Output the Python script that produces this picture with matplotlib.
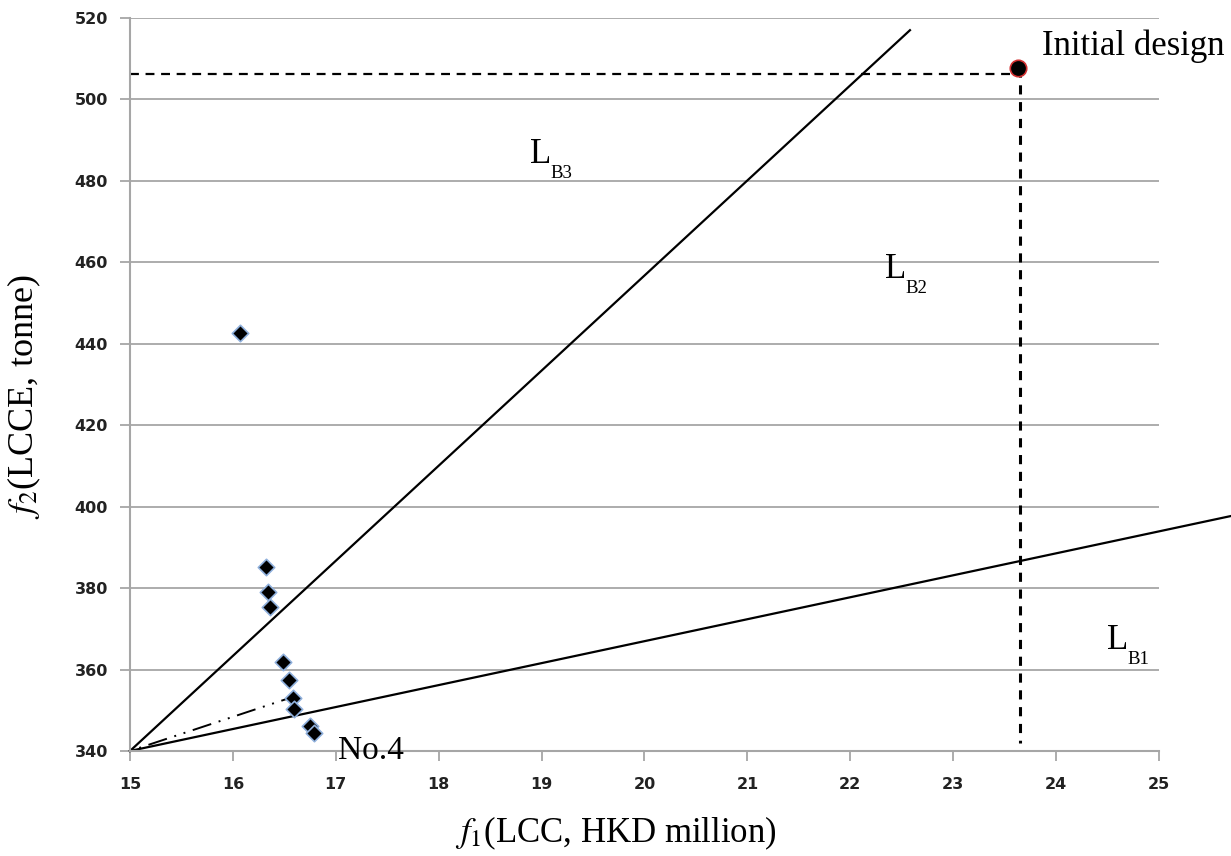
import numpy as np
import matplotlib
matplotlib.use("Agg")
import matplotlib.pyplot as plt

plt.rcParams['mathtext.fontset'] = 'stix'
plt.rcParams['font.family'] = 'Liberation Serif'

# Pareto solutions (LCC, LCCE)
lcc = [16.07, 16.32, 16.34, 16.36, 16.49, 16.55, 16.58, 16.59, 16.75, 16.79]
lcce = [442.7, 385.2, 379.1, 375.4, 361.9, 357.5, 353.1, 350.2, 346.2, 344.4]

# initial design
init_x, init_y = 23.63, 507.6
ref_line_y = 506.3

# boundary lines from origin (15, 340)
origin = (15, 340)
lb3_end = (22.58, 517.0)
lb1_end = (25.70, 397.7)
lb_mid_end = (16.55, 353.0)

xticks = list(range(15, 26))
yticks = list(range(340, 521, 20))

fig = plt.figure(figsize=(12.31, 8.56), dpi=100)
ax = fig.add_axes([0.1056, 0.1227, 0.8359, 0.8563])

ax.set_xlim(15, 25)
ax.set_ylim(340, 520)
ax.set_xticks(xticks)
ax.set_yticks(yticks)
ax.yaxis.grid(True, color='#a6a6a6', lw=1.3)
ax.set_axisbelow(True)
for s in ['top', 'right']:
    ax.spines[s].set_visible(False)
for s in ['left', 'bottom']:
    ax.spines[s].set_color('#a6a6a6')
    ax.spines[s].set_linewidth(1.5)
ax.tick_params(axis='both', color='#a6a6a6', width=1.3, length=7, labelsize=11.5)
ax.tick_params(axis='x', pad=12)
ax.tick_params(axis='y', pad=9)
for lab in ax.get_xticklabels() + ax.get_yticklabels():
    lab.set_family('DejaVu Sans')
    lab.set_fontweight('bold')
    lab.set_color('#222222')

ax.plot([origin[0], lb3_end[0]], [origin[1], lb3_end[1]], color='black', lw=1.6, clip_on=False)
ax.plot([origin[0], lb1_end[0]], [origin[1], lb1_end[1]], color='black', lw=1.6, clip_on=False)
ax.plot([origin[0], lb_mid_end[0]], [origin[1], lb_mid_end[1]], color='black', lw=1.4,
        linestyle=(0, (1, 4, 1, 4, 10, 4)))

ax.plot([15, init_x - 0.08], [ref_line_y, ref_line_y], color='black', lw=1.6, ls=(0, (4, 3)))
ax.plot([init_x + 0.02, init_x + 0.02], [init_y, 342], color='black', lw=2.2, ls=(0, (3, 2.5)))

ax.scatter(lcc, lcce, marker='D', s=70, color='black', edgecolors='#8fb0dc', linewidths=1.2, zorder=5)
ax.scatter([init_x], [init_y], marker='o', s=140, color='black', edgecolors='#d03030', linewidths=1.2,
           zorder=6, clip_on=False)


def lb_label(x, y, sub):
    ax.text(x, y, 'L', fontsize=25, ha='left', va='baseline')
    ax.annotate(sub, (x, y), xytext=(14.4, -10.8), textcoords='offset points',
                fontsize=13.5, ha='left', va='baseline')


lb_label(18.887, 484.4, 'B3')
lb_label(22.337, 456.2, 'B2')
lb_label(24.495, 365.0, 'B1')

ax.text(23.863, 510.9, 'Initial design', fontsize=25, ha='left', va='baseline')
ax.text(17.02, 338.0, 'No.4', fontsize=24, ha='left', va='baseline')

ax.set_xlabel(r'$f_1$(LCC, HKD million)', fontsize=25)
ax.set_ylabel(r'$f_2$(LCCE, tonne)', fontsize=26)
ax.xaxis.set_label_coords(0.472, -0.087)
ax.yaxis.set_label_coords(-0.0845, 0.483)

fig.savefig('out.png', dpi=100)
